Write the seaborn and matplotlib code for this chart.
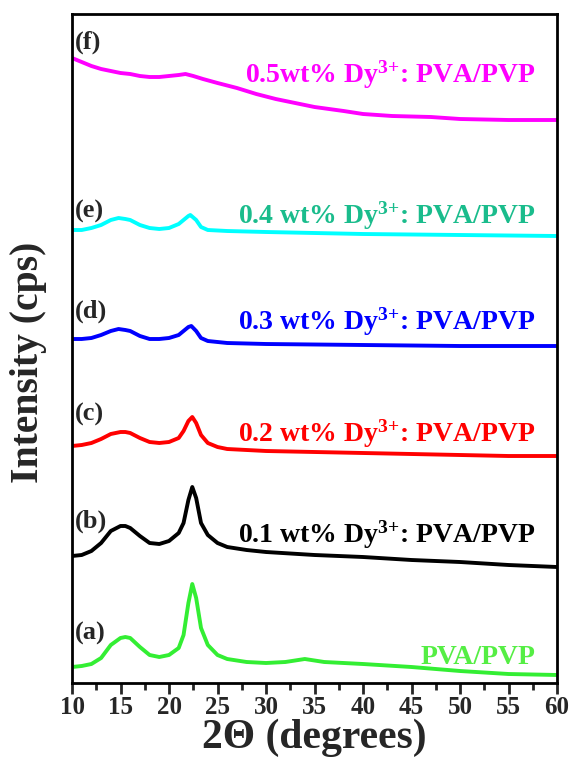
import numpy as np
import pandas as pd
import matplotlib
matplotlib.use("Agg")
import matplotlib.pyplot as plt
import seaborn as sns
from matplotlib.ticker import MultipleLocator

# ---------------------------------------------------------------------------
# Datos leidos del difractograma (2theta en grados, intensidad en u.a. desplazada)
# ---------------------------------------------------------------------------
tt_a = [10, 11, 12, 13, 14, 15, 15.5, 16, 17, 18, 19, 20, 21, 21.5, 22, 22.4, 22.8, 23.3, 24, 25, 26, 28, 30, 32, 34, 36, 40, 45, 50, 55, 60]
I_a = [16, 17, 19, 25, 38, 45, 46, 45, 36, 28, 26, 28, 35, 48, 80, 99, 85, 55, 38, 28, 24, 21, 20, 21, 24, 21, 19, 16, 12, 9, 8]

tt_b = [10, 11, 12, 13, 14, 15, 15.5, 16, 17, 18, 19, 20, 21, 21.5, 22, 22.4, 22.8, 23.3, 24, 25, 26, 28, 30, 35, 40, 45, 50, 55, 60]
I_b = [127, 128, 132, 140, 152, 157, 157, 155, 147, 140, 139, 142, 150, 160, 183, 196, 185, 160, 148, 140, 136, 133, 131, 128, 126, 123, 121, 118, 116]

tt_c = [10, 11, 12, 13, 14, 15, 15.5, 16, 17, 18, 19, 20, 21, 21.5, 22, 22.4, 22.8, 23.3, 24, 25, 26, 28, 30, 35, 40, 45, 50, 55, 60]
I_c = [237, 238, 240, 244, 249, 251, 251, 250, 245, 241, 240, 241, 245, 252, 262, 266, 260, 248, 240, 236, 234, 233, 232, 231, 230, 229, 228, 227, 227]

tt_d = [10, 11, 12, 13, 14, 14.8, 15.5, 16, 17, 18, 19, 20, 21, 21.5, 22, 22.3, 22.8, 23.3, 24, 26, 30, 40, 50, 60]
I_d = [344, 344, 345, 348, 352, 354, 353, 352, 347, 344, 344, 345, 348, 352, 356, 357, 352, 345, 342, 340, 339, 338, 337, 337]

tt_e = [10, 11, 12, 13, 14, 14.8, 15.5, 16, 17, 18, 19, 20, 21, 21.5, 22, 22.2, 22.8, 23.3, 24, 26, 30, 40, 50, 60]
I_e = [453, 453, 455, 458, 463, 465, 464, 463, 458, 455, 454, 455, 459, 463, 467, 468, 463, 456, 453, 452, 451, 449, 448, 447]

tt_f = [10, 11, 12, 13, 14, 15, 16, 17, 18, 19, 20, 21, 21.7, 22.5, 23.5, 25, 27, 29, 31, 33, 35, 38, 40, 43, 47, 50, 55, 60]
I_f = [625, 621, 617, 614, 612, 610, 609, 607, 606, 606, 607, 608, 609, 607, 604, 600, 595, 589, 584, 580, 576, 572, 569, 567, 566, 564, 563, 563]

muestras = ["(a)", "(b)", "(c)", "(d)", "(e)", "(f)"]
leyendas = ["PVA/PVP",
            r"0.1 wt% Dy$^{\text{3+}}$: PVA/PVP",
            r"0.2 wt% Dy$^{\text{3+}}$: PVA/PVP",
            r"0.3 wt% Dy$^{\text{3+}}$: PVA/PVP",
            r"0.4 wt% Dy$^{\text{3+}}$: PVA/PVP",
            r"0.5wt% Dy$^{\text{3+}}$: PVA/PVP"]

colores_linea = ["#33EE33", "#000000", "#FF0000", "#0000FF", "#00FFFF", "#FF00FF"]
colores_texto = ["#55EE44", "#000000", "#FF0000", "#0000FF", "#1ABC8C", "#FF00FF"]

# ---------------------------------------------------------------------------
# Estilo
# ---------------------------------------------------------------------------
sns.set_style("ticks")
plt.rcParams["font.family"] = ["Liberation Serif", "DejaVu Serif"]
plt.rcParams["font.weight"] = "bold"
plt.rcParams["mathtext.fontset"] = "custom"
plt.rcParams["mathtext.rm"] = "Liberation Serif:bold"
plt.rcParams["mathtext.default"] = "rm"

fig, ax = plt.subplots(figsize=(5.71, 7.6), dpi=100)
fig.subplots_adjust(left=72/571, right=557/571, top=1-14/760, bottom=1-683/760)

series = [(tt_a, I_a), (tt_b, I_b), (tt_c, I_c), (tt_d, I_d), (tt_e, I_e), (tt_f, I_f)]
for (tt, I), col in zip(series, colores_linea):
    df = pd.DataFrame({"2theta": tt, "I": I})
    sns.lineplot(data=df, x="2theta", y="I", color=col, linewidth=2.8, ax=ax)

# etiquetas de muestra (izquierda) y composicion (derecha)
pos_izq = [50, 162, 269, 372, 472, 641]
pos_der = [26, 148, 249, 361, 467, 608]
for lab, y in zip(muestras, pos_izq):
    ax.text(10.3, y, lab, fontsize=19, fontweight="bold", ha="left", va="center")
for lab, y, col in zip(leyendas, pos_der, colores_texto):
    ax.text(57.8, y, lab, fontsize=20, fontweight="bold", ha="right", va="center", color=col)

ax.set_xlim(10, 60)
ax.set_ylim(0, 669)
ax.xaxis.set_major_locator(MultipleLocator(5))
ax.xaxis.set_minor_locator(MultipleLocator(2.5))
ax.set_yticks([])
ax.tick_params(axis="x", which="major", length=8, width=2, direction="out", labelsize=18, pad=1)
ax.tick_params(axis="x", which="minor", length=5, width=2, direction="out")
for lbl in ax.get_xticklabels():
    lbl.set_fontweight("bold")
for sp in ax.spines.values():
    sp.set_visible(True)
    sp.set_linewidth(2)
    sp.set_color("black")

ax.set_xlabel("2Θ (degrees)", fontsize=30, fontweight="bold", labelpad=0)
ax.set_ylabel("Intensity (cps)", fontsize=28.5, fontweight="bold")
ax.yaxis.set_label_coords(-0.052, 0.48)

fig.savefig("out.png", dpi=100)
plt.close(fig)
